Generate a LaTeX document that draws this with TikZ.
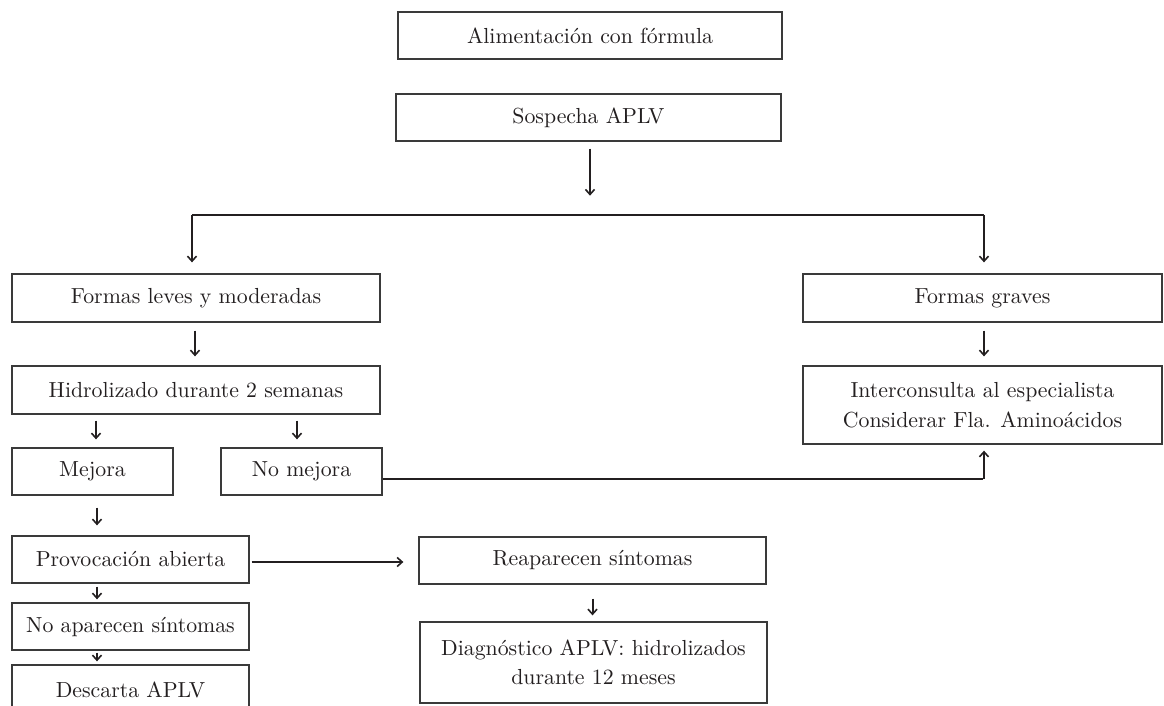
\documentclass[tikz,border=0pt]{standalone}
\usepackage{fontspec}
\setmainfont{lmroman10-regular}[Extension=.otf]
\usetikzlibrary{arrows.meta,calc}
\definecolor{ink}{HTML}{231F20}
\definecolor{frame}{HTML}{3A3A3A}
\begin{document}
\begin{tikzpicture}[x=1pt,y=-1pt,
  box/.style={draw=frame, line width=1.3pt, rectangle, inner sep=0pt, align=center,
    text=ink, font=\fontsize{21.8}{29.5}\selectfont},
  arr/.style={draw=ink, line width=2pt, -{Straight Barb[length=5pt,width=9pt,line width=1.6pt]}},
  conn/.style={draw=ink, line width=2.6pt}]
\clip (0,0) rectangle (1164,706);
\fill[white] (0,0) rectangle (1164,706);
% boxes
\node[box, minimum width=384pt, minimum height=47pt] (alim) at (590,35.5) {Alimentación con fórmula};
\node[box, minimum width=385pt, minimum height=47pt] (sosp) at (588.5,117.5) {Sospecha APLV};
\node[box, minimum width=368pt, minimum height=48pt] (leves) at (196,298) {Formas leves y moderadas};
\node[box, minimum width=359pt, minimum height=48pt] (graves) at (982.5,298) {Formas graves};
\node[box, minimum width=368pt, minimum height=48pt] (hidro) at (196,390) {Hidrolizado durante 2 semanas};
\node[box, minimum width=359pt, minimum height=78pt] (inter) at (982.5,405) {Interconsulta al especialista\\Considerar Fla. Aminoácidos};
\node[box, minimum width=161pt, minimum height=47pt] (mejora) at (92.5,471.5) {Mejora};
\node[box, minimum width=161pt, minimum height=47pt] (nomej) at (301.5,471.5) {No mejora};
\node[box, minimum width=237pt, minimum height=47pt] (provo) at (130.5,559.5) {Provocación abierta};
\node[box, minimum width=347pt, minimum height=47pt] (reap) at (592.5,560.5) {Reaparecen síntomas};
\node[box, minimum width=237pt, minimum height=47pt] (noapa) at (130.5,626.5) {No aparecen síntomas};
\node[box, minimum width=347pt, minimum height=81pt] (diag) at (593.5,662.5) {Diagnóstico APLV: hidrolizados\\durante 12 meses};
\node[box, minimum width=237pt, minimum height=50pt] (desc) at (130.5,690) {Descarta APLV};
% connectors
\coordinate (bl) at (192,215);
\coordinate (br) at (984,215);
\draw[arr, line width=1.8pt] ($(sosp.south)+(1.5,7)$) -- ++(0,47);
\draw[conn] (bl) -- (br);
\draw[arr, line width=2.3pt, shorten >=11pt] (bl) -- (bl |- leves.north);
\draw[arr, line width=2.3pt, shorten >=11pt] (br) -- (br |- graves.north);
\draw[arr, shorten <=8pt, shorten >=9pt] ($(leves.south)+(-1,0)$) -- ($(hidro.north)+(-1,0)$);
\draw[arr, shorten <=8pt, shorten >=9pt] ($(graves.south)+(1.5,0)$) -- ($(inter.north)+(1.5,0)$);
\draw[arr, shorten <=6pt, shorten >=8pt] (hidro.south -| mejora.north) ++(3.5,0) coordinate (h1) -- (h1 |- mejora.north);
\draw[arr, shorten <=6pt, shorten >=8pt] (hidro.south -| nomej.north) ++(-4.5,0) coordinate (h2) -- (h2 |- nomej.north);
\draw[arr, shorten <=12pt, shorten >=10pt] (mejora.south) ++(4.5,0) coordinate (m1) -- (m1 |- provo.north);
\draw[arr, line width=2.3pt, shorten <=2pt, shorten >=15pt] (provo.east) ++(0,2.5) coordinate (p1) -- (p1 -| reap.west);
\draw[arr, shorten <=14pt, shorten >=6pt] (reap.south) -- (reap.south |- diag.north);
\draw[arr, shorten <=3pt, shorten >=3pt] (provo.south) ++(-33.5,0) coordinate (p2) -- (p2 |- noapa.north);
\draw[arr, line width=1.8pt, shorten <=2pt, shorten >=3pt] (noapa.south) ++(-33.5,0) coordinate (n1) -- (n1 |- desc.north);
\draw[conn, -{Straight Barb[length=5pt,width=9pt,line width=1.6pt]}, shorten >=6pt] (nomej.east) ++(0,7.5) coordinate (q1) -- (q1 -| inter.south) ++(1.5,0) -- ++(0,0) -- ($(inter.south)+(1.5,0)$);
\end{tikzpicture}
\end{document}
